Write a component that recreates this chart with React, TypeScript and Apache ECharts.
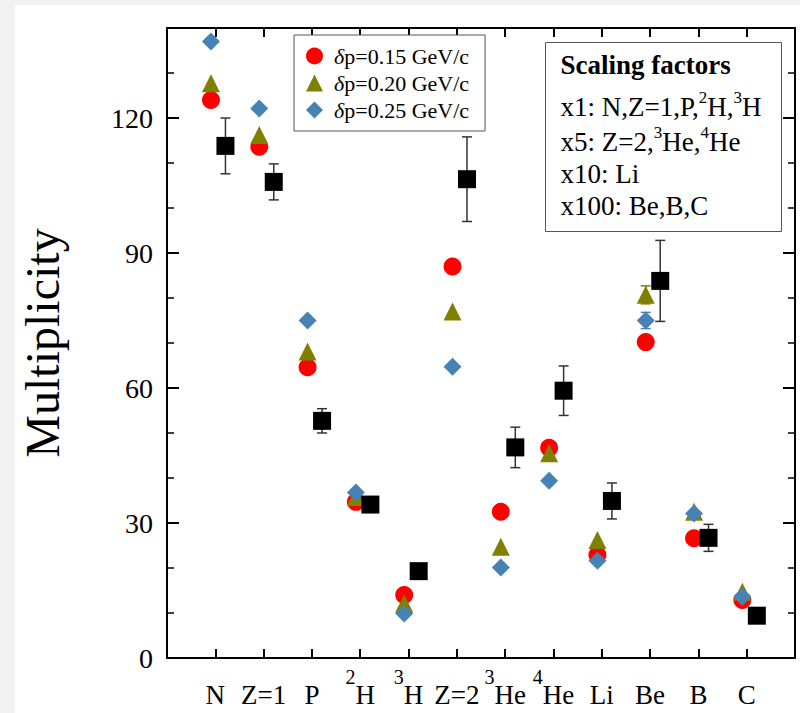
import React, { useEffect, useRef } from 'react';
import * as echarts from 'echarts';

const FONT = "'Liberation Serif', 'Times New Roman', serif";

// x-axis categories (rich text: {sup|n} is a superscript)
const categories = ['N', 'Z=1', 'P', '{sup|2}H', '{sup|3}H', 'Z=2', '{sup|3}He', '{sup|4}He', 'Li', 'Be', 'B', 'C'];

// model results
const seriesNames = ['δp=0.15 GeV/c', 'δp=0.20 GeV/c', 'δp=0.25 GeV/c'];
const dp015 = [124.0, 113.6, 64.6, 34.7, 14.0, 87.0, 32.5, 46.7, 22.9, 70.2, 26.6, 12.9];
const dp020 = [127.7, 116.2, 68.1, 35.8, 12.1, 77.0, 24.7, 45.5, 26.2, 80.7, 32.5, 14.7];
const dp025 = [137.0, 122.1, 75.0, 36.8, 9.9, 64.7, 20.1, 39.4, 21.6, 75.0, 32.1, 13.6];
// small model error bars (category index, error)
const dp020Err = [[9, 2.0]];
const dp025Err = [[9, 1.8]];

// experimental data
const expValues = [113.8, 105.8, 52.7, 34.1, 19.3, 106.4, 46.8, 59.4, 34.9, 83.8, 26.7, 9.4];
const expErrors = [6.2, 4.0, 2.7, 1.0, 0, 9.4, 4.5, 5.5, 4.0, 9.0, 3.0, 0];

const yLabelTicks = [0, 30, 60, 90, 120];

const scalingTitle = 'Scaling factors';
const scalingLines = [
  'x1: N,Z=1,P,{sup|2}H,{sup|3}H',
  'x5: Z=2,{sup|3}He,{sup|4}He',
  'x10: Li',
  'x100: Be,B,C',
];

const MODEL_DX = -0.09;
const EXP_DX = 0.21;

export default function App() {
  const ref = useRef<HTMLDivElement>(null);

  useEffect(() => {
    const chart = echarts.init(ref.current!, null, { renderer: 'svg' });

    const pts = (vals: number[], dx: number) => vals.map((v, i) => [i + 1 + dx, v]);
    const errData = (vals: number[], errs: number[], dx: number) =>
      errs
        .map((e, i) => [i + 1 + dx, vals[i] - e, vals[i] + e, e])
        .filter((d) => d[3] > 0);
    const smallErr = (vals: number[], list: number[][], dx: number) =>
      list.map(([i, e]) => [i + 1 + dx, vals[i] - e, vals[i] + e, e]);

    const errorRender = (hw: number, lw: number) => (params: any, api: any) => {
      const x = api.value(0);
      const lo = api.coord([x, api.value(1)]);
      const hi = api.coord([x, api.value(2)]);
      const style = { stroke: api.visual('color'), lineWidth: lw };
      return {
        type: 'group',
        children: [
          { type: 'line', shape: { x1: lo[0], y1: lo[1], x2: hi[0], y2: hi[1] }, style },
          { type: 'line', shape: { x1: lo[0] - hw, y1: lo[1], x2: lo[0] + hw, y2: lo[1] }, style },
          { type: 'line', shape: { x1: hi[0] - hw, y1: hi[1], x2: hi[0] + hw, y2: hi[1] }, style },
        ],
      };
    };

    const supRich = (size: number) => ({
      sup: { fontSize: size, fontFamily: FONT, color: '#000', verticalAlign: 'top', lineHeight: size },
    });

    const xAxisCommon = {
      type: 'value',
      min: 0,
      max: 13,
      interval: 1,
      splitLine: { show: false },
      axisLine: { show: true, onZero: false, lineStyle: { color: '#000', width: 2 } },
      axisTick: { show: true, inside: true, length: 9, lineStyle: { color: '#000', width: 2 } },
    };
    // y axes: "fine" axes carry ticks every 10, "major" axes carry longer ticks every 30
    const yFine = {
      type: 'value',
      min: 0,
      max: 140,
      interval: 10,
      offset: 0,
      splitLine: { show: false },
      axisLine: { show: true, onZero: false, lineStyle: { color: '#000', width: 2 } },
      axisTick: { show: true, inside: true, length: 7, lineStyle: { color: '#000', width: 1.5 } },
    };
    const yMajor = {
      type: 'value',
      min: 0,
      max: 140,
      interval: 30,
      offset: 0,
      splitLine: { show: false },
      axisLine: { show: false, onZero: false },
      axisLabel: { show: false },
      axisTick: { show: true, inside: true, length: 12, lineStyle: { color: '#000', width: 2 } },
    };

    const option: any = {
      animation: false,
      backgroundColor: 'transparent',
      grid: { left: 167, top: 28, right: 5, bottom: 55, containLabel: false, outerBoundsMode: 'none' },
      xAxis: [
        {
          ...xAxisCommon,
          position: 'bottom',
          axisLabel: {
            show: true,
            margin: 9,
            fontSize: 27,
            fontFamily: FONT,
            color: '#000',
            lineHeight: 56,
            formatter: (v: number) => (v >= 1 && v <= 12 ? categories[v - 1] : ''),
            rich: supRich(20),
          },
        },
        { ...xAxisCommon, position: 'top', axisLabel: { show: false } },
      ],
      yAxis: [
        {
          ...yFine,
          position: 'left',
          axisLabel: {
            show: true,
            margin: 14,
            fontSize: 28,
            fontFamily: FONT,
            color: '#000',
            formatter: (v: number) => (yLabelTicks.includes(v) ? String(v) : ''),
          },
          name: 'Multiplicity',
          nameLocation: 'middle',
          nameGap: 101,
          nameTextStyle: { fontSize: 48, fontFamily: FONT, color: '#000' },
        },
        { ...yFine, position: 'right', axisLabel: { show: false } },
        { ...yMajor, position: 'left' },
        { ...yMajor, position: 'right' },
      ],
      legend: {
        orient: 'vertical',
        left: 294,
        top: 35,
        padding: [10, 16, 10, 12],
        itemGap: 5,
        itemWidth: 17,
        itemHeight: 17,
        borderColor: '#555',
        borderWidth: 1,
        borderRadius: 0,
        backgroundColor: '#fff',
        data: [
          { name: seriesNames[0], icon: 'circle' },
          { name: seriesNames[1], icon: 'triangle' },
          { name: seriesNames[2], icon: 'diamond' },
        ],
        formatter: (name: string) => '{i|δ}' + name.slice(1),
        textStyle: {
          fontFamily: FONT,
          fontSize: 22,
          color: '#000',
          lineHeight: 22,
          padding: [0, 0, 0, 6],
          rich: { i: { fontFamily: FONT, fontSize: 22, fontStyle: 'italic', color: '#000' } },
        },
      },
      graphic: [
        {
          type: 'group',
          left: 545,
          top: 42,
          z: 100,
          children: [
            {
              type: 'rect',
              shape: { x: 0, y: 0, width: 236, height: 189 },
              style: { fill: '#fff', stroke: '#555', lineWidth: 1 },
            },
            {
              type: 'text',
              x: 15,
              y: 22,
              style: {
                text: scalingTitle,
                fontFamily: FONT,
                fontSize: 27,
                fontWeight: 'bold',
                fill: '#000',
                verticalAlign: 'middle',
              },
            },
            ...scalingLines.map((t, i) => ({
              type: 'text',
              x: 15,
              y: [64, 99, 131, 163][i],
              style: {
                text: t,
                fontFamily: FONT,
                fontSize: 27,
                fill: '#000',
                verticalAlign: 'middle',
                lineHeight: 36,
                rich: supRich(17),
              },
            })),
          ],
        },
      ],
      series: [
        {
          type: 'custom',
          name: 'expErr',
          renderItem: errorRender(5, 1.5),
          data: errData(expValues, expErrors, EXP_DX),
          encode: { x: 0, y: [1, 2] },
          itemStyle: { color: '#333' },
          z: 1,
          silent: true,
        },
        {
          type: 'scatter',
          name: seriesNames[0],
          symbol: 'circle',
          symbolSize: 18,
          itemStyle: { color: '#ff0000', opacity: 1 },
          data: pts(dp015, MODEL_DX),
          z: 2,
        },
        {
          type: 'custom',
          name: 'err020',
          renderItem: errorRender(5, 1.5),
          data: smallErr(dp020, dp020Err, MODEL_DX),
          encode: { x: 0, y: [1, 2] },
          itemStyle: { color: '#808000' },
          z: 3,
          silent: true,
        },
        {
          type: 'scatter',
          name: seriesNames[1],
          symbol: 'triangle',
          symbolSize: 18,
          itemStyle: { color: '#808000', opacity: 1 },
          data: pts(dp020, MODEL_DX),
          z: 3,
        },
        {
          type: 'custom',
          name: 'err025',
          renderItem: errorRender(5, 1.5),
          data: smallErr(dp025, dp025Err, MODEL_DX),
          encode: { x: 0, y: [1, 2] },
          itemStyle: { color: '#4682b4' },
          z: 4,
          silent: true,
        },
        {
          type: 'scatter',
          name: seriesNames[2],
          symbol: 'diamond',
          symbolSize: 18,
          itemStyle: { color: '#4682b4', opacity: 1 },
          data: pts(dp025, MODEL_DX),
          z: 4,
        },
        {
          type: 'scatter',
          name: 'Experiment',
          symbol: 'rect',
          symbolSize: 18,
          itemStyle: { color: '#000', opacity: 1 },
          data: pts(expValues, EXP_DX),
          z: 5,
        },
      ],
    };

    chart.setOption(option);
    return () => chart.dispose();
  }, []);

  return (
    <div style={{ position: 'fixed', left: 0, top: 0, width: 800, height: 713, background: '#f1f1f1', overflow: 'hidden' }}>
      <div style={{ position: 'absolute', left: 15, top: 5, width: 785, height: 708, background: '#fff' }} />
      <div ref={ref} style={{ position: 'absolute', left: 0, top: 0, width: 800, height: 713 }} />
    </div>
  );
}
